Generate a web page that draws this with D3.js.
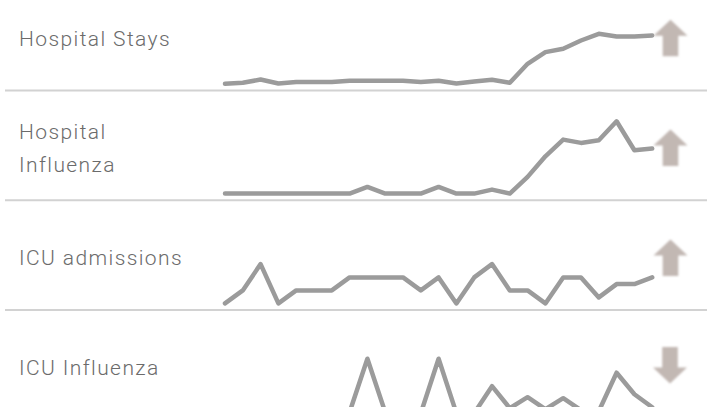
<!DOCTYPE html>
<html>
<head>
<meta charset="utf-8">
<script src="https://cdn.jsdelivr.net/npm/d3@7"></script>
<style>
  body { margin: 0; background: #fff; }
  .label { font-family: Roboto, "Open Sans", sans-serif; font-size: 21px; font-weight: 300; letter-spacing: 1.4px; fill: #6b6b6b; }
</style>
</head>
<body>
<svg id="chart"></svg>
<script>
// weekly periods (x categories)
const weeks = [1, 2, 3, 4, 5, 6, 7, 8, 9, 10, 11, 12, 13, 14, 15, 16, 17, 18, 19, 20, 21, 22, 23, 24, 25];

const labels = ["Hospital Stays", "Hospital Influenza", "ICU admissions", "ICU Influenza"];
const trends = ["up", "up", "up", "down"];

// relative level per week, read from the sparklines
const hospitalStays = [0, 1, 4.3, 0.3, 1.7, 1.7, 1.7, 3, 3, 3, 3, 1.7, 3, 0.3, 2.3, 4, 1, 20, 31.7, 35, 43.3, 50, 47.3, 47.3, 48.3];
const hospitalInfluenza = [0, 0, 0, 0, 0, 0, 0, 0, 6.7, 0, 0, 0, 6.7, 0, 0, 4, 0, 16.7, 37.3, 54, 50.7, 53.3, 72.3, 43.3, 45];
const icuAdmissions = [0, 13, 39.3, 0, 13, 13, 13, 26, 26, 26, 26, 13, 26, 0, 26, 39.3, 13, 13, 0, 26, 26, 6, 19.3, 19.3, 26];
const icuInfluenza = [0, 0, 0, 0, 0, 0, 0, 1, 54.5, 1, 0, 0, 54.5, 0, 0, 27, 5, 16, 4, 15, 3, 2, 40.5, 19, 6];

const series = [hospitalStays, hospitalInfluenza, icuAdmissions, icuInfluenza];

var width = 711, height = 407;
var bandH = 109.8, firstTop = -19.5;
var baseOff = 103.3;

let svg = d3.select("#chart")
    .attr("width", width)
    .attr("height", height);

let defs = svg.append("defs");
defs.append("filter")
    .attr("id", "soft")
    .attr("x", "-20%").attr("y", "-20%")
    .attr("width", "140%").attr("height", "140%")
    .append("feGaussianBlur")
    .attr("stdDeviation", 0.8);

var x = d3.scalePoint()
    .domain(weeks)
    .range([225, 652.2]);

// same scale for every row, measured up from the row baseline
var y = d3.scaleLinear()
    .domain([0, 100])
    .range([0, 100]);

var line = d3.line()
    .x(function(d, i) { return x(weeks[i]); })
    .y(function(d) { return -y(d); });

var rows = svg.selectAll(".row")
    .data(series)
    .enter().append("g")
    .attr("class", "row")
    .attr("transform", function(d, i) { return "translate(0," + (firstTop + i * bandH) + ")"; });

// separator under each row
rows.append("line")
    .attr("x1", 5).attr("x2", 707)
    .attr("y1", 110).attr("y2", 110)
    .attr("stroke", "#d2d2d2")
    .attr("stroke-width", 2);

// labels, wrapped when too wide
rows.append("text")
    .attr("class", "label")
    .attr("x", 19)
    .each(function(d, i) {
        let t = d3.select(this);
        let words = labels[i].split(" ");
        let lines = [];
        let cur = words[0];
        for (let k = 1; k < words.length; k++) {
            t.text(cur + " " + words[k]);
            if (this.getComputedTextLength() > 175) {
                lines.push(cur);
                cur = words[k];
            } else {
                cur = cur + " " + words[k];
            }
        }
        lines.push(cur);
        t.text(null);
        let lh = 33;
        let y0 = 65 - (lines.length - 1) * lh / 2;
        lines.forEach(function(l, j) {
            t.append("tspan").attr("x", 19).attr("y", y0 + j * lh).text(l);
        });
    });

// sparkline
rows.append("g")
    .attr("transform", "translate(0," + baseOff + ")")
    .append("path")
    .attr("d", function(d) { return line(d); })
    .attr("fill", "none")
    .attr("stroke", "#9b9b9b")
    .attr("stroke-width", 4.5)
    .attr("stroke-linejoin", "round")
    .attr("stroke-linecap", "round");

// trend arrow
var arrowUp = "M0,0 L17,16 L7.8,16 L7.8,36.5 L-7.8,36.5 L-7.8,16 L-17,16 Z";
rows.append("path")
    .attr("d", arrowUp)
    .attr("fill", "#c2b8b3")
    .attr("filter", "url(#soft)")
    .attr("transform", function(d, i) {
        if (trends[i] === "up") return "translate(670.5,39.3)";
        return "translate(670,73.5) rotate(180)";
    });
</script>
</body>
</html>
